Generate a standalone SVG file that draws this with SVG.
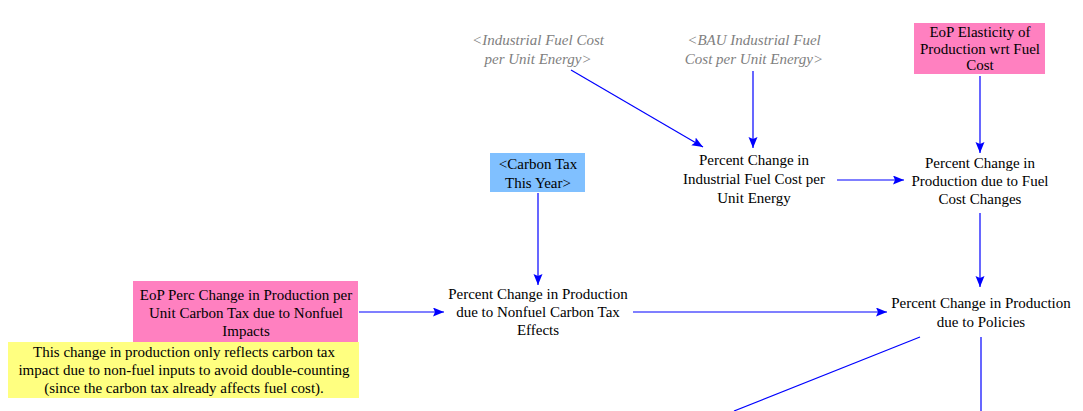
<svg xmlns="http://www.w3.org/2000/svg" width="1083" height="411" viewBox="0 0 1083 411">
<style>
text{font-family:'Liberation Serif','Times New Roman',Times,'DejaVu Serif',serif;font-size:15px;fill:#000;text-anchor:middle}
text.shadow{fill:#808080;font-style:italic}
.conn line{stroke:#0000FF;stroke-width:1.2;fill:none}
</style>
<defs>
<marker id="ah" markerUnits="userSpaceOnUse" markerWidth="12" markerHeight="10" refX="11" refY="4.5" orient="auto">
<path d="M0,0 L11,4.5 L0,9 L2,4.5 z" fill="#0000FF"/>
</marker>
</defs>
<rect width="1083" height="411" fill="#fff"/>

<g id="industrial-fuel-cost">
<text class="shadow" x="538" y="45">&lt;Industrial Fuel Cost</text>
<text class="shadow" x="538" y="64">per Unit Energy&gt;</text>
</g>
<g id="bau-industrial-fuel-cost">
<text class="shadow" x="754" y="45">&lt;BAU Industrial Fuel</text>
<text class="shadow" x="754" y="64">Cost per Unit Energy&gt;</text>
</g>
<g id="eop-elasticity">
<rect x="914" y="23" width="131" height="51" fill="#FF80C0"/>
<text x="980" y="37">EoP Elasticity of</text>
<text x="980" y="54">Production wrt Fuel</text>
<text x="980" y="70">Cost</text>
</g>
<g id="pct-change-fuel-cost">
<text x="754" y="165">Percent Change in</text>
<text x="754" y="184">Industrial Fuel Cost per</text>
<text x="754" y="203">Unit Energy</text>
</g>
<g id="pct-change-prod-fuel">
<text x="980" y="168">Percent Change in</text>
<text x="980" y="186">Production due to Fuel</text>
<text x="980" y="204">Cost Changes</text>
</g>
<g id="carbon-tax">
<rect x="490" y="153" width="95" height="39" fill="#80C0FF"/>
<text x="538" y="169">&lt;Carbon Tax</text>
<text x="538" y="188">This Year&gt;</text>
</g>
<g id="pct-change-prod-nonfuel">
<text x="538" y="299">Percent Change in Production</text>
<text x="538" y="317">due to Nonfuel Carbon Tax</text>
<text x="538" y="335">Effects</text>
</g>
<g id="eop-perc-change">
<rect x="133" y="281" width="225" height="61" fill="#FF80C0"/>
<text x="246" y="300">EoP Perc Change in Production per</text>
<text x="246" y="318">Unit Carbon Tax due to Nonfuel</text>
<text x="246" y="336">Impacts</text>
</g>
<g id="note">
<rect x="8" y="342" width="351" height="56" fill="#FFFF80"/>
<text x="184" y="357">This change in production only reflects carbon tax</text>
<text x="184" y="375">impact due to non-fuel inputs to avoid double-counting</text>
<text x="184" y="393">(since the carbon tax already affects fuel cost).</text>
</g>
<g id="pct-change-prod-policies">
<text x="981" y="308">Percent Change in Production</text>
<text x="981" y="327">due to Policies</text>
</g>

<g id="connectors" class="conn">
<line x1="571" y1="70" x2="703" y2="147" marker-end="url(#ah)"/>
<line x1="753" y1="71" x2="753" y2="148" marker-end="url(#ah)"/>
<line x1="980" y1="76" x2="980" y2="153" marker-end="url(#ah)"/>
<line x1="837" y1="180" x2="904" y2="180" marker-end="url(#ah)"/>
<line x1="980" y1="213" x2="980" y2="287" marker-end="url(#ah)"/>
<line x1="538" y1="193" x2="538" y2="285" marker-end="url(#ah)"/>
<line x1="359" y1="312" x2="444" y2="312" marker-end="url(#ah)"/>
<line x1="633" y1="312" x2="887" y2="312" marker-end="url(#ah)"/>
<line x1="920" y1="337" x2="734" y2="411"/>
<line x1="981" y1="337" x2="981" y2="411"/>
</g>
</svg>
